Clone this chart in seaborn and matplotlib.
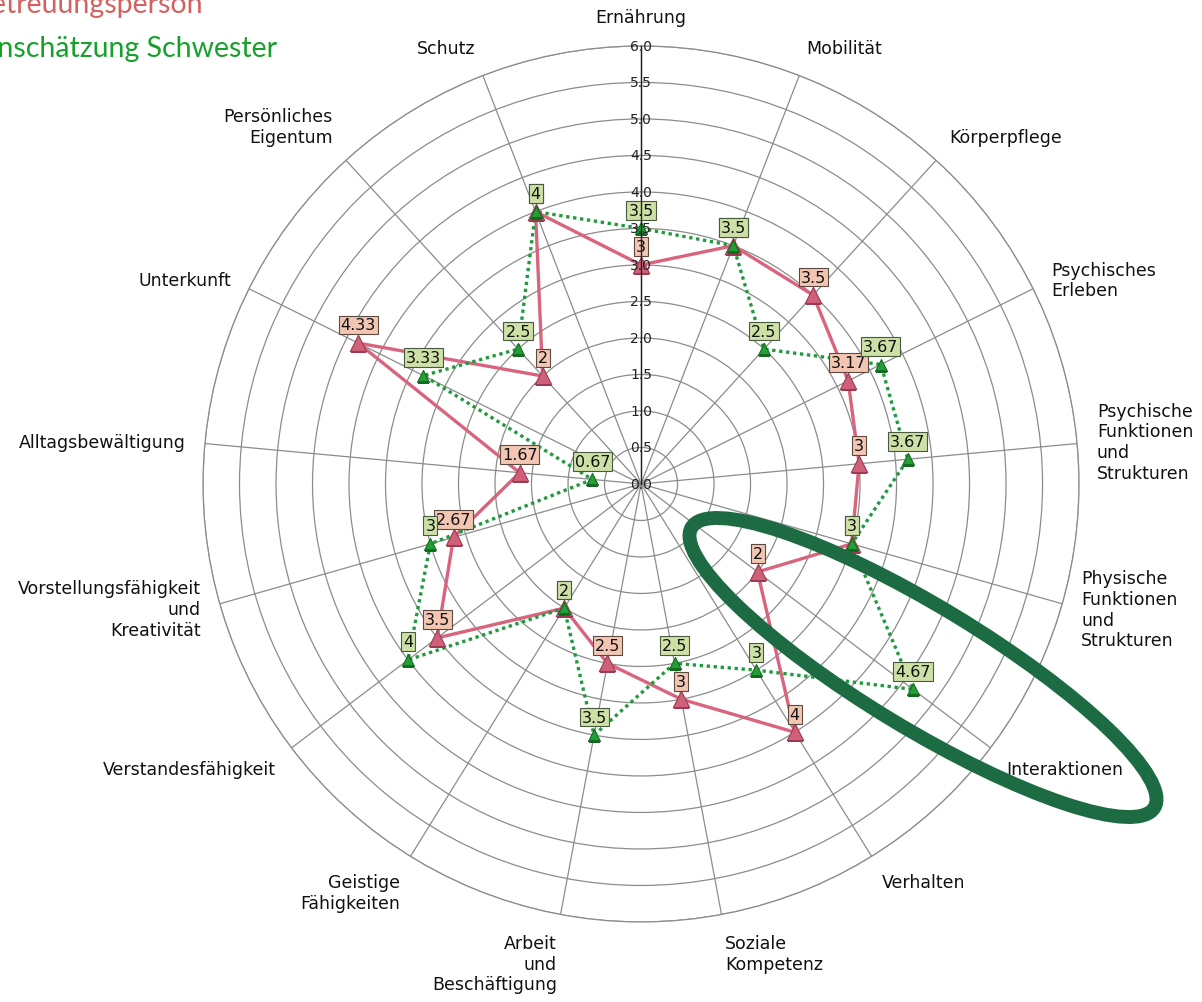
import numpy as np
import pandas as pd
import matplotlib
matplotlib.use('Agg')
import matplotlib.pyplot as plt
import seaborn as sns
from matplotlib.patches import Ellipse

# Kategorien im Uhrzeigersinn, beginnend oben
kategorien = ['Ernährung', 'Mobilität', 'Körperpflege', 'Psychisches\nErleben',
              'Psychische\nFunktionen\nund\nStrukturen',
              'Physische\nFunktionen\nund\nStrukturen',
              'Interaktionen', 'Verhalten', 'Soziale\nKompetenz',
              'Arbeit\nund\nBeschäftigung', 'Geistige\nFähigkeiten',
              'Verstandesfähigkeit', 'Vorstellungsfähigkeit\nund\nKreativität',
              'Alltagsbewältigung', 'Unterkunft', 'Persönliches\nEigentum', 'Schutz']
betreuung = [3, 3.5, 3.5, 3.17, 3, 3, 2, 4, 3, 2.5, 2, 3.5, 2.67, 1.67, 4.33, 2, 4]
schwester = [3.5, 3.5, 2.5, 3.67, 3.67, 3, 4.67, 3, 2.5, 3.5, 2, 4, 3, 0.67, 3.33, 2.5, 4]
ring_werte = [0.0, 0.5, 1.0, 1.5, 2.0, 2.5, 3.0, 3.5, 4.0, 4.5, 5.0, 5.5, 6.0]

ROT = '#d8647e'
GRUEN = '#1f9a3c'

sns.set_theme(style='white')
plt.rcParams['font.family'] = ['DejaVu Sans']

fig = plt.figure(figsize=(12.02, 10.03), dpi=100)
ax = fig.add_axes([0.1689, 0.0798, 0.7288, 0.8734], projection='polar')
ax.set_theta_zero_location('N')
ax.set_theta_direction(-1)

n = len(kategorien)
winkel = np.linspace(0, 2 * np.pi, n, endpoint=False)

# Netz
ax.set_xticks(winkel)
ax.set_xticklabels([])
ax.set_yticks(ring_werte[1:])
ax.set_yticklabels([])
ax.set_ylim(0, 6)
ax.grid(True, color='#8c8c8c', lw=0.9)
ax.spines['polar'].set_color('#8c8c8c')
ax.spines['polar'].set_linewidth(0.9)
ax.set_axisbelow(True)

# Linien (geschlossen)
df = pd.DataFrame({
    'theta': np.concatenate([winkel, winkel[:1] + 2 * np.pi] * 2),
    'wert': betreuung + betreuung[:1] + schwester + schwester[:1],
    'reihe': ['Betreuungsperson'] * (n + 1) + ['Schwester'] * (n + 1),
})
sns.lineplot(data=df, x='theta', y='wert', hue='reihe', style='reihe',
             palette={'Betreuungsperson': ROT, 'Schwester': GRUEN},
             dashes={'Betreuungsperson': '', 'Schwester': (1, 1.1)},
             sort=False, estimator=None, lw=2.4, legend=False, ax=ax)
ax.set_xlabel('')
ax.set_ylabel('')

# Marker
sns.scatterplot(x=winkel, y=betreuung, marker='^', s=140, color='#d0607a',
                edgecolor='#9c3a50', linewidth=0.8, ax=ax, zorder=5)
sns.scatterplot(x=winkel, y=schwester, marker='^', s=75, color='#22a035',
                edgecolor='#146a20', linewidth=0.8, ax=ax, zorder=6)

# Wertebeschriftungen
for t, v in zip(winkel, betreuung):
    ax.annotate(f'{v:g}', (t, v), xytext=(0, 13), textcoords='offset points',
                ha='center', va='center', fontsize=11.5, color='#111111',
                bbox=dict(boxstyle='square,pad=0.12', fc='#f3c6b3', ec='#5a4a40', lw=0.8),
                zorder=7)
for t, v in zip(winkel, schwester):
    ax.annotate(f'{v:g}', (t, v), xytext=(0, 13), textcoords='offset points',
                ha='center', va='center', fontsize=11.5, color='#111111',
                bbox=dict(boxstyle='square,pad=0.12', fc='#cde0a6', ec='#4a5a40', lw=0.8),
                zorder=8)

# Skala auf der Ernährung-Achse
for r in ring_werte:
    ax.text(0, r, f'{r:.1f}', ha='center', va='center', fontsize=10,
            color='#222222', zorder=9)
ax.plot([0, 0], [0, 6], color='#222222', lw=1, zorder=10)

# Kategorienamen
for t, name in zip(winkel, kategorien):
    s, c = np.sin(t), np.cos(t)
    ha = 'center' if abs(s) < 0.05 else ('left' if s > 0 else 'right')
    va = 'bottom' if c > 0.6 else ('top' if c < -0.5 else 'center')
    ax.text(t, 6.27, name, ha=ha, va=va, multialignment=ha, fontsize=12.5,
            color='#111111', clip_on=False)

# Legende (abgeschnitten wie im Original)
fig.text(203 / 1202, 1 - 13 / 1003, 'Einschätzung Betreuungsperson', ha='right',
         va='baseline', fontsize=20.5, color='#d4615f', family='Lato')
fig.text(277 / 1202, 1 - 57 / 1003, 'Einschätzung Schwester', ha='right',
         va='baseline', fontsize=20.5, color='#17a02a', family='Lato')

# Markierung
ell = Ellipse((9.23, 3.345), 5.41, 1.22, angle=-31.2, transform=fig.dpi_scale_trans,
              fill=False, ec='#1d6b42', lw=10, zorder=20)
fig.add_artist(ell)

fig.savefig('out.png', dpi=100)
